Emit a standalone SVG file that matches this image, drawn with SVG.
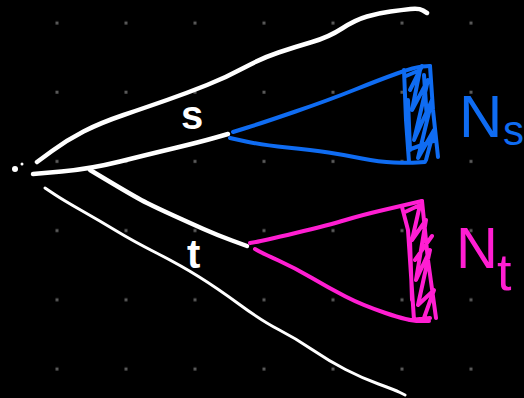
<svg xmlns="http://www.w3.org/2000/svg" width="524" height="398" viewBox="0 0 524 398">
<defs>
<style>
.ink{fill:none;stroke-linecap:round;stroke-linejoin:round}
.w{stroke:#ffffff}
.b{stroke:#0f6cf2}
.m{stroke:#ff1ed2}
.dot{fill:#5a5a5a}
.lbl{font-family:"Liberation Sans","DejaVu Sans",sans-serif}
</style>
<pattern id="grid" x="0" y="0" width="69" height="69.2" patternUnits="userSpaceOnUse">
<rect x="55.5" y="21.5" width="3" height="3" class="dot"/>
</pattern>
</defs>
<rect width="524" height="398" fill="#000"/>
<rect width="524" height="398" fill="url(#grid)"/>
<g id="edges">
<path id="top-curve" class="ink w" stroke-width="4.5" d="M37,162 L52,151 Q67,140 83.5,131.5 Q100,123 123.5,115 Q147,107 167,100 Q187,93 207,85 Q227,77 244.5,67.5 Q262,58 278.5,52.5 Q295,47 312,42 Q329,37 342,28.5 Q355,20 367,16.5 Q379,13 390.5,11.5 Q402,10 410.5,9 Q419,8 423,10.5 L427,13"/>
<path id="s-branch" class="ink w" stroke-width="4.5" d="M33,174 L61.5,171.5 Q90,169 120,161.5 Q150,154 175,148 Q200,142 214,138 L228,134"/>
<path id="t-branch" class="ink w" stroke-width="4.5" d="M90,170 L113.5,184 Q137,198 147,203 Q157,208 173.5,215.5 Q190,223 203.5,229 Q217,235 232,240.5 L247,246"/>
<path id="bottom-curve" class="ink w" stroke-width="3" d="M45,188 L54,194 Q63,200 81.5,210.5 Q100,221 116.5,231 Q133,241 156.5,253 Q180,265 198.5,276.5 Q217,288 239.5,304.5 Q262,321 278.5,329.5 Q295,338 312,349.5 Q329,361 345.5,369.5 Q362,378 378.5,384 Q395,390 400,392.5 L405,395"/>
<circle cx="15" cy="169" r="3" fill="#fff"/>
<circle cx="22" cy="164" r="1.5" fill="#fff"/>
</g>
<g id="node-s">
<text class="lbl" x="181" y="129" font-size="40" font-weight="bold" fill="#fff">s</text>
</g>
<g id="node-t">
<text class="lbl" x="187" y="268" font-size="40" font-weight="bold" fill="#fff">t</text>
</g>
<g id="cone-s">
<path class="ink b" stroke-width="4" d="M233,132 L247.5,127.5 Q262,123 295.5,111.5 Q329,100 354,90 Q379,80 397,73.5 Q415,67 422.5,66.5 L430,66"/>
<path class="ink b" stroke-width="4" d="M230,138 L246,141.5 Q262,145 287,147.5 Q312,150 328.5,152.5 Q345,155 362,158.5 Q379,162 394,162.5 Q409,163 417,162.5 L425,162"/>
<path class="ink b" stroke-width="4" d="M404,70 L406,120 L409,162 M430,66 L433,110 L438,157 M406,76 L420,70 L412,110 L428,80 L414,140 L432,100 L418,158 L434,130 L426,160 M410,90 L422,66 M408,150 L436,140 M408,100 L410,150 M424,75 L427,120"/>
<text class="lbl" x="459" y="137" font-size="60" fill="#0f6cf2">N</text>
<text class="lbl" x="503" y="145" font-size="42" fill="#0f6cf2">s</text>
</g>
<g id="cone-t">
<path class="ink m" stroke-width="4" d="M250,243 L256,242 Q262,241 295.5,233 Q329,225 345.5,220 Q362,215 383.5,210 Q405,205 413.5,203 L422,201"/>
<path class="ink m" stroke-width="4" d="M255,249 L258.5,251 Q262,253 278.5,260.5 Q295,268 312,278 Q329,288 345.5,296.5 Q362,305 385.5,313 Q409,321 419,321 L429,321"/>
<path class="ink m" stroke-width="4" d="M402,207 L408,230 L414,320 M422,201 L428,260 L436,318 M405,212 L420,205 L412,240 L426,220 L416,280 L430,250 L418,305 L434,290 L424,318 M410,320 L430,318 M415,260 L432,236 M410,240 L412,300"/>
<text class="lbl" x="456" y="268" font-size="58" fill="#ff1ed2">N</text>
<text class="lbl" x="497" y="290" font-size="52" fill="#ff1ed2">t</text>
</g>
</svg>
